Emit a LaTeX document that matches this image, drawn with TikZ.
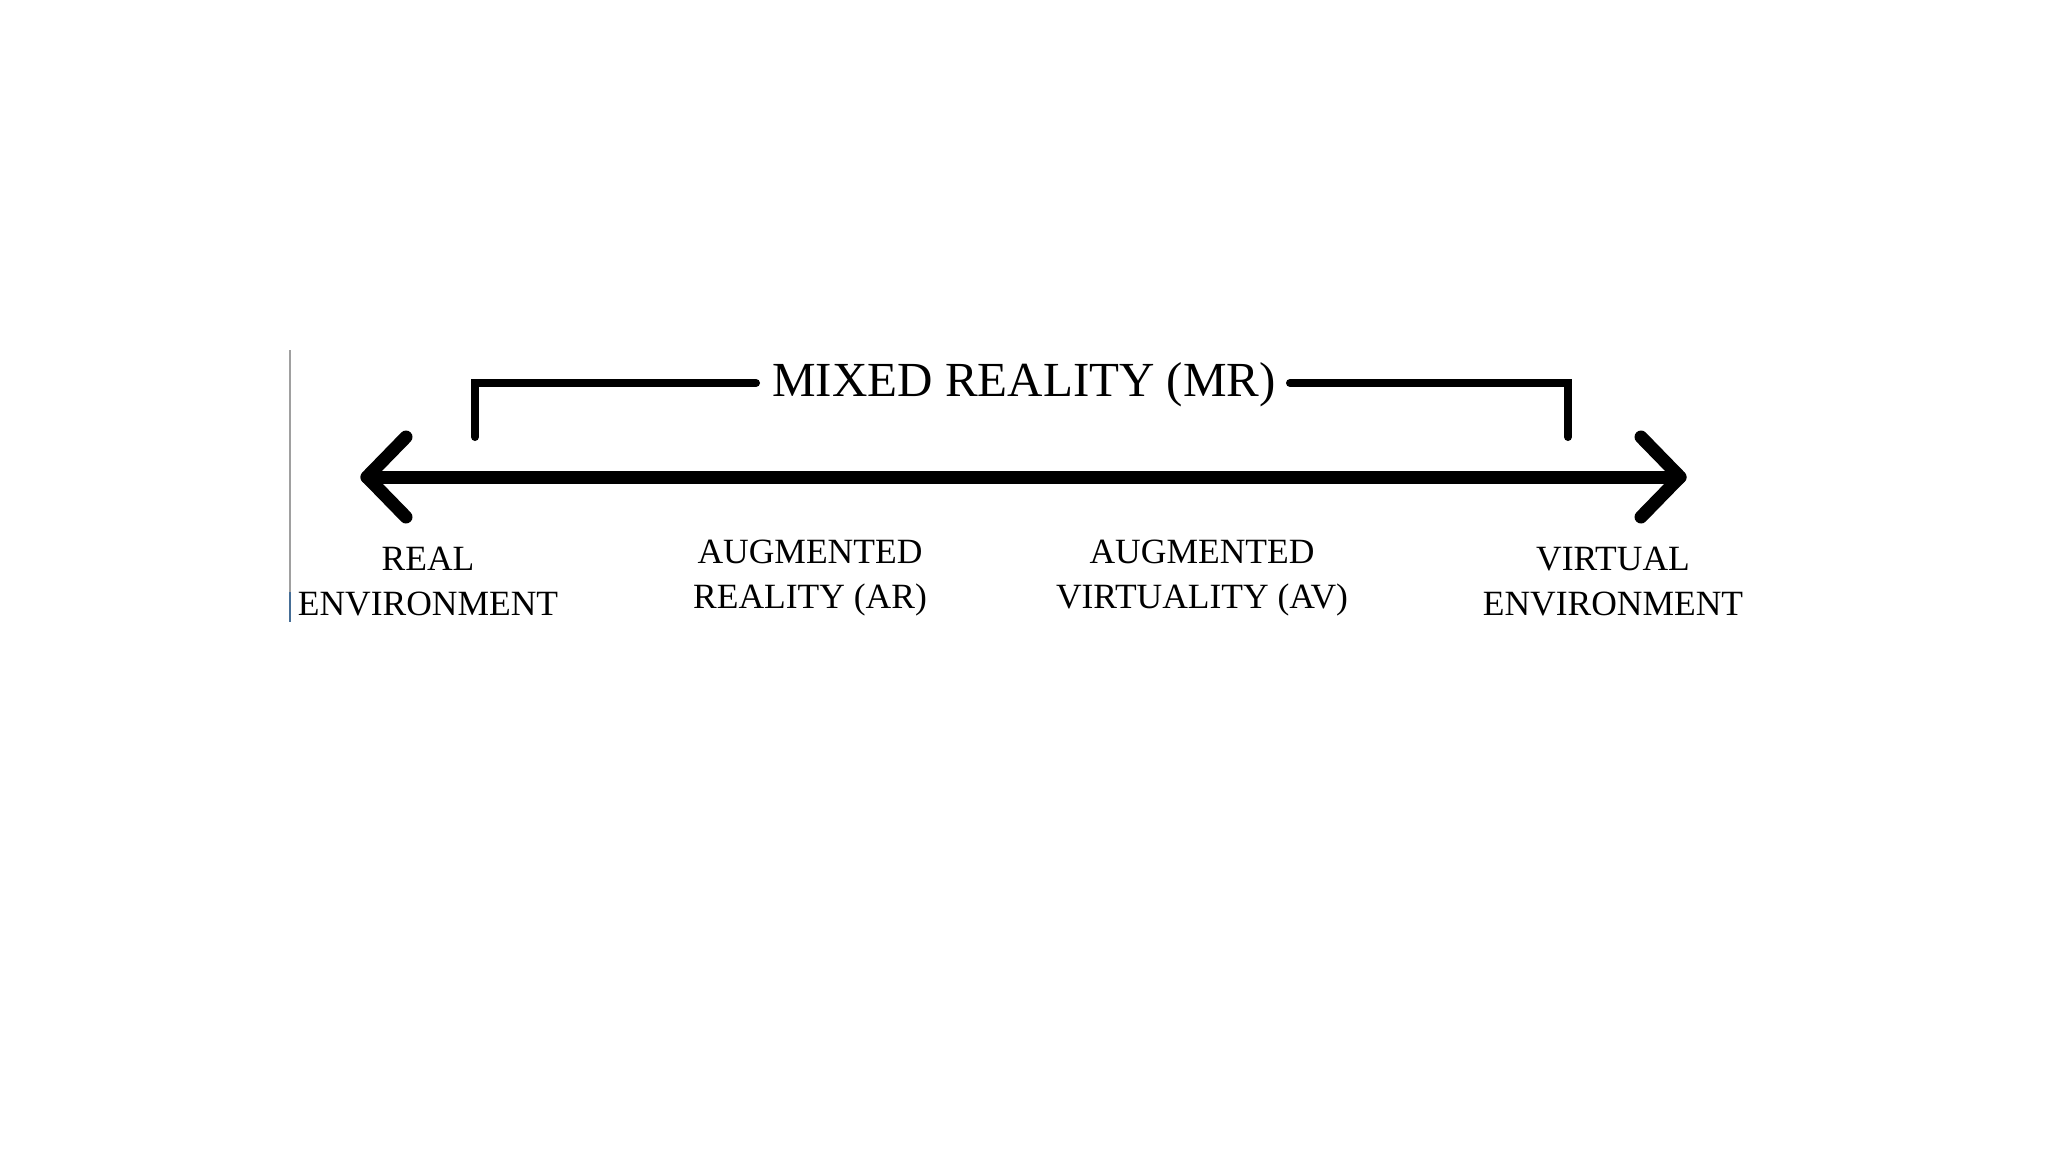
\documentclass[tikz,border=0pt]{standalone}
\usepackage{fontspec}
\setmainfont{Liberation Serif}
\definecolor{rulegray}{RGB}{160,160,160}
\definecolor{ruleblue}{RGB}{70,110,150}
\begin{document}
\begin{tikzpicture}[x=1pt,y=-1pt,
  axisline/.style={line width=13pt,line cap=round,line join=round},
  bracketline/.style={line width=8pt,line cap=round,line join=miter},
  lab/.style={anchor=base,inner sep=0pt,font=\fontsize{35.5}{44}\selectfont},
  ttl/.style={anchor=base,inner sep=0pt,font=\fontsize{49}{58}\selectfont}]
\useasboundingbox[fill=white] (0,0) rectangle (2048,1152);
% thin left rule
\coordinate (r1) at (290,350);
\coordinate (r2) at (290,592);
\coordinate (r3) at (290,622);
\draw[line width=1.5pt,rulegray] (r1) -- (r2);
\draw[line width=1.5pt,ruleblue] (r2) -- (r3);
% main axis
\coordinate (lt) at (367,477);
\coordinate (lu) at (406,437);
\coordinate (ld) at (406,517);
\coordinate (rt) at (1680,477);
\coordinate (ru) at (1641,437);
\coordinate (rd) at (1641,517);
\draw[axisline] (lt) -- (rt);
\draw[axisline] (lu) -- (lt) -- (ld);
\draw[axisline] (ru) -- (rt) -- (rd);
% bracket
\node[ttl] (mr) at (1024,396) {MIXED REALITY (MR)};
\coordinate (bl0) at (475,437);
\coordinate (bl1) at (475,383);
\coordinate (bl2) at (756,383);
\coordinate (br0) at (1568,437);
\coordinate (br1) at (1568,383);
\coordinate (br2) at (1290,383);
\draw[bracketline] (bl0) -- (bl1) -- (bl2);
\draw[bracketline] (br0) -- (br1) -- (br2);
% labels
\node[lab] (re1) at (428,570) {REAL};
\node[lab] (re2) at (428,615) {ENVIRONMENT};
\node[lab] (ar1) at (810,563) {AUGMENTED};
\node[lab] (ar2) at (810,608) {REALITY (AR)};
\node[lab] (av1) at (1202,563) {AUGMENTED};
\node[lab] (av2) at (1202,608) {VIRTUALITY (AV)};
\node[lab] (ve1) at (1613,570) {VIRTUAL};
\node[lab] (ve2) at (1613,615) {ENVIRONMENT};
\end{tikzpicture}
\end{document}
